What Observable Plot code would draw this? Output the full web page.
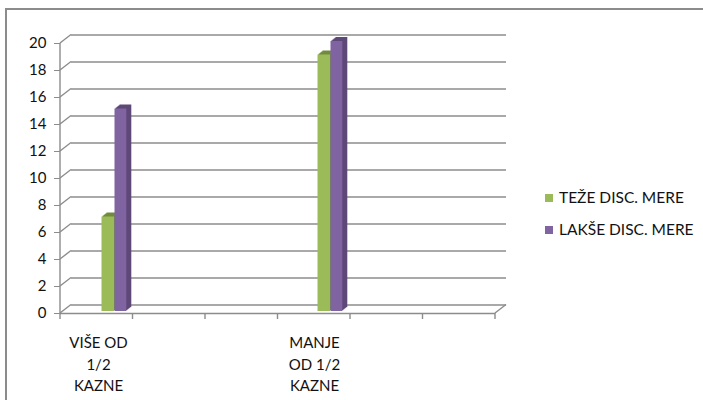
<!DOCTYPE html>
<html><head><meta charset="utf-8">
<script src="https://cdn.jsdelivr.net/npm/d3@7"></script>
<script src="https://cdn.jsdelivr.net/npm/@observablehq/plot@0.6"></script>
<style>
body{margin:0;background:#fff;font-family:Lato,"Open Sans",sans-serif}
#wrap{position:relative;width:703px;height:400px;overflow:hidden}
#frame{position:absolute;left:5px;top:8px;width:720px;height:420px;border-left:2px solid #8c8c8c;border-top:2px solid #8c8c8c;box-sizing:border-box}
#chart{position:absolute;left:0;top:0}
#legend{position:absolute;left:545px;top:181px;font-size:15.5px;color:#111;line-height:32px}
#legend .sw{display:inline-block;width:8px;height:8px;margin-right:6px;vertical-align:1px}
</style></head><body>
<div id="wrap"><div id="frame"></div><div id="chart"></div><div id="legend"></div></div>
<script>
const categories = ["VIŠE OD\n1/2\nKAZNE", "", "", "MANJE\nOD 1/2\nKAZNE", "", ""];
const series = ["TEŽE DISC. MERE", "LAKŠE DISC. MERE"];
const tezeValues = [7, null, null, 19, null, null];
const lakseValues = [15, null, null, 20, null, null];
const yTicks = [0, 2, 4, 6, 8, 10, 12, 14, 16, 18, 20];
const frontColors = ["#9BBB59", "#8064A2"];
const sideColors = ["#718B3E", "#5D4878"];

const slots = d3.range(categories.length);
const seriesValues = [tezeValues, lakseValues];
const rows = [];
seriesValues.forEach((vals, s) => vals.forEach((v, i) => { if (v != null) rows.push({slot: i, s, value: v}); }));

const grid = "#8c8c8c";
const depthX = 11, depthY = -8.5;
// inset of each series' bar inside its category band (pixels)
const insets = [{l: 39.5, r: 20}, {l: 52.5, r: 7.7}];

const barMarks = [];
[0, 1].forEach(s => {
  const data = rows.filter(r => r.s === s);
  for (let k = 1; k <= 5; k++) {
    barMarks.push(Plot.rectY(data, {x: "slot", y: "value", fill: sideColors[s],
      insetLeft: insets[s].l, insetRight: insets[s].r, dx: k, dy: -2 - 0.8 * k}));
  }
  barMarks.push(Plot.rectY(data, {x: "slot", y: "value", fill: frontColors[s],
    insetLeft: insets[s].l, insetRight: insets[s].r, dy: -2}));
});

// walls / floor edges drawn through the scales
const edges = (index, scales, values, dims) => {
  const g = d3.create("svg:g").attr("stroke", grid).attr("stroke-width", 1.4).attr("fill", "none");
  const x0 = dims.marginLeft, x1 = dims.width - dims.marginRight;
  const bw = (x1 - x0) / categories.length;
  for (const t of yTicks) {
    const yy = scales.y(t);
    g.append("line").attr("x1", x0).attr("y1", yy).attr("x2", x0 + depthX).attr("y2", yy + depthY);
  }
  const y0 = scales.y(0);
  g.append("line").attr("x1", x1).attr("y1", y0).attr("x2", x1 + depthX).attr("y2", y0 + depthY);
  g.append("line").attr("x1", x0).attr("y1", scales.y(0)).attr("x2", x0).attr("y2", scales.y(20));
  for (let i = 0; i <= categories.length; i++) {
    const xx = x0 + i * bw;
    g.append("line").attr("x1", xx).attr("y1", y0).attr("x2", xx).attr("y2", y0 + 6);
  }
  return g.node();
};

const chart = Plot.plot({
  width: 703, height: 400,
  marginLeft: 60, marginRight: 208, marginTop: 43, marginBottom: 87,
  style: {fontFamily: "Lato, 'Open Sans', sans-serif", background: "transparent"},
  x: {type: "band", domain: slots, padding: 0, axis: null, label: null},
  y: {domain: [0, 20], axis: null, label: null},
  marks: [
    Plot.ruleY(yTicks, {y: d => d, dx: depthX, dy: depthY, stroke: grid, strokeWidth: 1.4}),
    Plot.ruleY([0], {stroke: grid, strokeWidth: 1.4}),
    edges,
    Plot.axisY({ticks: yTicks, tickSize: 6, tickPadding: 8, fontSize: 15, stroke: grid, fill: "#111", label: null}),
    ...barMarks,
    Plot.text(slots, {x: d => d, text: d => categories[d], frameAnchor: "bottom", lineAnchor: "top",
      dy: 19, fontSize: 15, lineHeight: 1.45, fill: "#111"})
  ]
});
document.getElementById("chart").appendChild(chart);

const legend = document.getElementById("legend");
series.forEach((name, s) => {
  const row = document.createElement("div");
  row.innerHTML = `<span class="sw" style="background:${frontColors[s]}"></span>${name}`;
  legend.appendChild(row);
});
</script>
</body></html>
